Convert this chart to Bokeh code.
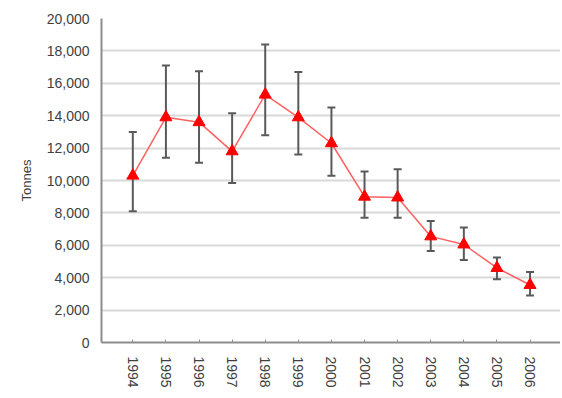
from bokeh.plotting import figure
from bokeh.models import ColumnDataSource, Range1d, FixedTicker, NumeralTickFormatter, Whisker, TeeHead
from bokeh.embed import file_html
from bokeh.resources import INLINE

years = [1994, 1995, 1996, 1997, 1998, 1999, 2000, 2001, 2002, 2003, 2004, 2005, 2006]
tonnes = [10300, 13900, 13600, 11800, 15300, 13900, 12300, 9000, 8950, 6550, 6050, 4600, 3550]
upper = [13000, 17100, 16750, 14150, 18400, 16700, 14500, 10550, 10700, 7500, 7100, 5250, 4350]
lower = [8100, 11400, 11100, 9850, 12800, 11600, 10300, 7700, 7700, 5650, 5100, 3900, 2900]
y_ticks = [0, 2000, 4000, 6000, 8000, 10000, 12000, 14000, 16000, 18000, 20000]

src = ColumnDataSource(dict(x=years, y=tonnes, upper=upper, lower=lower))

p = figure(width=560, height=396, output_backend="svg", toolbar_location=None,
           x_range=Range1d(1993.054, 2006.92), y_range=Range1d(0, 20000),
           min_border_left=101, min_border_top=18, min_border_bottom=54, min_border_right=0)
p.outline_line_color = None
p.background_fill_color = "white"
p.border_fill_color = "white"

p.xgrid.visible = False
p.ygrid.grid_line_color = "#d9d9d9"
p.ygrid.grid_line_width = 2

font = "Liberation Sans"
# x axis
p.xaxis.ticker = FixedTicker(ticks=years)
p.xaxis.major_label_orientation = "vertical"
p.xaxis.major_label_text_font = font
p.xaxis.major_label_text_font_size = "14px"
p.xaxis.major_label_text_color = "#404040"
p.xaxis.major_label_standoff = 14
p.xaxis.major_tick_in = 3
p.xaxis.major_tick_out = 0
p.xaxis.major_tick_line_color = "#909090"
p.xaxis.minor_tick_line_color = None
p.xaxis.axis_line_color = "#8c8c8c"
p.xaxis.axis_line_width = 2

# y axis
p.yaxis.ticker = FixedTicker(ticks=y_ticks)
p.yaxis.formatter = NumeralTickFormatter(format="0,0")
p.yaxis.major_label_text_font = font
p.yaxis.major_label_text_font_size = "14px"
p.yaxis.major_label_text_color = "#404040"
p.yaxis.major_label_standoff = 12
p.yaxis.major_tick_in = 0
p.yaxis.major_tick_out = 0
p.yaxis.minor_tick_line_color = None
p.yaxis.axis_line_color = "#8c8c8c"
p.yaxis.axis_line_width = 2
p.yaxis.axis_label = "Tonnes"
p.yaxis.axis_label_text_font = font
p.yaxis.axis_label_text_font_size = "13px"
p.yaxis.axis_label_text_font_style = "normal"
p.yaxis.axis_label_text_color = "#404040"
p.yaxis.axis_label_standoff = 10

w = Whisker(source=src, base="x", upper="upper", lower="lower",
            line_color="#5a5a5a", line_width=2,
            upper_head=TeeHead(size=8, line_color="#5a5a5a", line_width=2),
            lower_head=TeeHead(size=8, line_color="#5a5a5a", line_width=2))
p.add_layout(w)

p.line("x", "y", source=src, line_color="#ff6060", line_width=1.5)
p.scatter("x", "y", source=src, marker="triangle", size=12,
          fill_color="#ff0000", line_color="#ff0000")

open("out.html", "w").write(file_html(p, INLINE))
